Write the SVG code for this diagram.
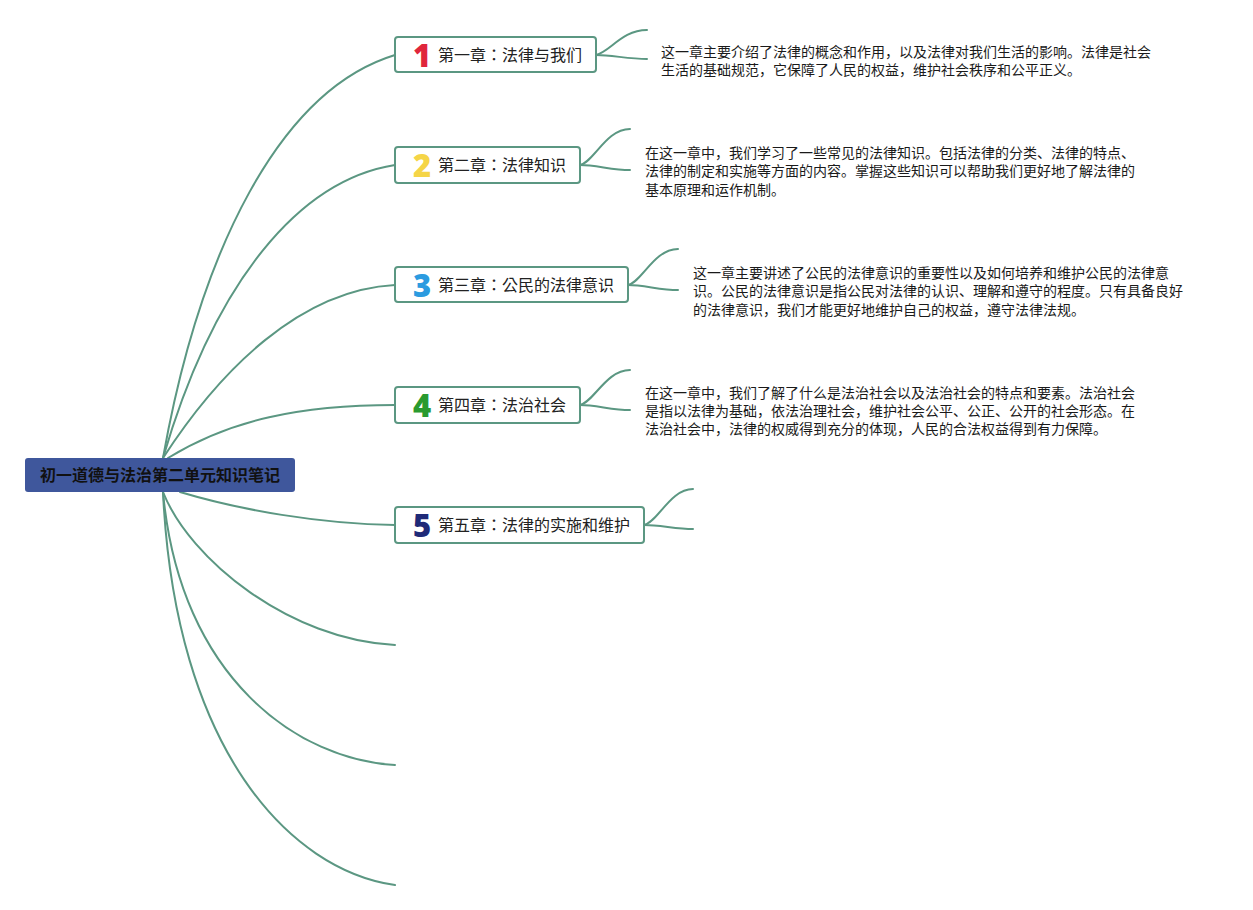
<svg xmlns="http://www.w3.org/2000/svg" width="1253" height="910" viewBox="0 0 1253 910">
<style>
.c{fill:none;stroke:#5b9782;stroke-width:2;stroke-linecap:round}
.box{fill:#fff;stroke:#5b9782;stroke-width:2}
.num{font-family:"Open Sans","Liberation Sans",sans-serif;font-weight:800;font-size:31px;text-anchor:middle}
.lbl{font-family:"Noto Sans CJK TC","Noto Sans CJK SC",sans-serif;font-size:16px;fill:#222}
.p{font-family:"Noto Sans CJK SC",sans-serif;font-size:14px;fill:#1a1a1a}
.root{font-family:"Noto Sans CJK SC",sans-serif;font-size:16px;font-weight:bold;fill:#111;text-anchor:middle}
</style>
<rect width="1253" height="910" fill="#fff"/>
<g id="connectors">
<path class="c" d="M163,458 C200,250 280,90 395,55"/>
<path class="c" d="M163,458 C215,280 300,180 395,165"/>
<path class="c" d="M163,458 C220,370 300,290 395,285"/>
<path class="c" d="M168,458 C230,420 300,405 395,405"/>
<path class="c" d="M180,492 C240,510 320,524 395,525"/>
<path class="c" d="M163,492 C190,560 290,640 395,645"/>
<path class="c" d="M163,492 C180,680 300,760 395,765"/>
<path class="c" d="M163,492 C175,750 290,870 395,885"/>
<path class="c" d="M596,55 C610,52 622,30 647,30"/>
<path class="c" d="M596,55 C612,55 628,59 647,59"/>
<path class="c" d="M580,165 C594,162 606,129 630,129"/>
<path class="c" d="M580,165 C596,165 612,170 630,170"/>
<path class="c" d="M628,285 C642,282 654,249 678,249"/>
<path class="c" d="M628,285 C644,285 660,290 678,290"/>
<path class="c" d="M580,405 C594,402 606,370 630,370"/>
<path class="c" d="M580,405 C596,405 612,410 630,410"/>
<path class="c" d="M644,525 C658,522 670,489 693,489"/>
<path class="c" d="M644,525 C660,525 676,529 693,529"/>
</g>
<g id="root">
<rect x="25" y="458" width="270" height="34" rx="3" fill="#3f579c"/>
<text class="root" x="160" y="481">初一道德与法治第二单元知识笔记</text>
</g>
<g id="ch1">
<rect class="box" x="395" y="37" width="201" height="35" rx="3"/>
<text class="num" x="422" y="66.5" fill="#e0263c">1</text>
<text class="lbl" x="438" y="60.5">第一章：法律与我们</text>
</g>
<g id="ch2">
<rect class="box" x="395" y="147" width="185" height="36" rx="3"/>
<text class="num" x="422" y="176.5" fill="#f5d547">2</text>
<text class="lbl" x="438" y="170.5">第二章：法律知识</text>
</g>
<g id="ch3">
<rect class="box" x="395" y="267" width="233" height="35" rx="3"/>
<text class="num" x="422" y="296.5" fill="#2b9be0">3</text>
<text class="lbl" x="438" y="290.5">第三章：公民的法律意识</text>
</g>
<g id="ch4">
<rect class="box" x="395" y="387" width="185" height="36" rx="3"/>
<text class="num" x="422" y="416.5" fill="#2a9a2f">4</text>
<text class="lbl" x="438" y="410.5">第四章：法治社会</text>
</g>
<g id="ch5">
<rect class="box" x="395" y="507" width="249" height="36" rx="3"/>
<text class="num" x="422" y="536.5" fill="#1f2a78">5</text>
<text class="lbl" x="438" y="530.5">第五章：法律的实施和维护</text>
</g>
<g id="note1">
<text class="p" x="661" y="57">这一章主要介绍了法律的概念和作用，以及法律对我们生活的影响。法律是社会</text>
<text class="p" x="661" y="75.3">生活的基础规范，它保障了人民的权益，维护社会秩序和公平正义。</text>
</g>
<g id="note2">
<text class="p" x="645" y="158">在这一章中，我们学习了一些常见的法律知识。包括法律的分类、法律的特点、</text>
<text class="p" x="645" y="176.3">法律的制定和实施等方面的内容。掌握这些知识可以帮助我们更好地了解法律的</text>
<text class="p" x="645" y="194.6">基本原理和运作机制。</text>
</g>
<g id="note3">
<text class="p" x="693" y="278">这一章主要讲述了公民的法律意识的重要性以及如何培养和维护公民的法律意</text>
<text class="p" x="693" y="296.3">识。公民的法律意识是指公民对法律的认识、理解和遵守的程度。只有具备良好</text>
<text class="p" x="693" y="314.6">的法律意识，我们才能更好地维护自己的权益，遵守法律法规。</text>
</g>
<g id="note4">
<text class="p" x="645" y="397.5">在这一章中，我们了解了什么是法治社会以及法治社会的特点和要素。法治社会</text>
<text class="p" x="645" y="415.8">是指以法律为基础，依法治理社会，维护社会公平、公正、公开的社会形态。在</text>
<text class="p" x="645" y="434.1">法治社会中，法律的权威得到充分的体现，人民的合法权益得到有力保障。</text>
</g>
</svg>
